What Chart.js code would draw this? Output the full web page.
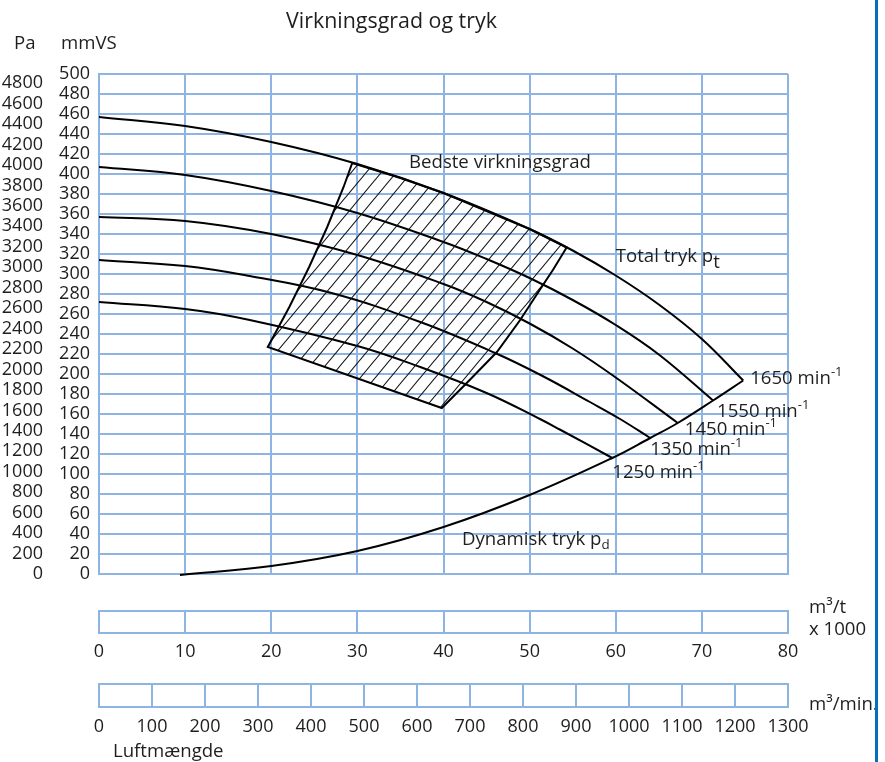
<!DOCTYPE html>
<html>
<head>
<meta charset="utf-8">
<script src="https://cdn.jsdelivr.net/npm/chart.js@4.4.0/dist/chart.umd.min.js"></script>
<style>
  html, body { margin: 0; padding: 0; background: #fff; }
  #wrap { width: 885px; height: 762px; }
</style>
</head>
<body>
<div id="wrap"><canvas id="fan" width="885" height="762"></canvas></div>
<script>
// ---- Fan data: air volume in 1000 m³/h, total pressure in mmVS ----
const speeds = [1650, 1550, 1450, 1350, 1250];

const flow1650 = [0, 10, 20, 30, 40, 50, 55, 60, 65, 70, 74.8];
const tp1650   = [457, 448, 432, 410, 381, 345, 323.5, 298.5, 269.5, 235, 193.5];

const flow1550 = [0, 10, 20, 30, 40, 45, 50, 55, 60, 65, 71.3];
const tp1550   = [407, 399, 383, 361, 332, 315, 296, 274, 249, 219.5, 173.5];

const flow1450 = [0, 10, 20, 30, 40, 45, 50, 55, 60, 67.2];
const tp1450   = [357, 353, 340, 319, 290, 272, 250.5, 225.5, 196.5, 151];

const flow1350 = [0, 10, 17.5, 27, 37.3, 46, 51.5, 57, 60.5, 64];
const tp1350   = [314, 308, 298, 281, 252, 221, 198, 172, 155, 136];

const flow1250 = [0, 10, 17.5, 30, 37.3, 45, 51.2, 53.5, 59.6];
const tp1250   = [272, 265, 254, 228, 207, 181, 155, 144.5, 116];

// dynamic pressure p_d
const dynFlow     = [9.4, 20, 30, 40, 50, 59.6, 64, 67.2, 71.3, 74.8];
const dynPressure = [-1, 8, 23, 47, 79, 116, 136, 151, 173.5, 193.5];

// best efficiency zone (closed outline)
const zoneFlow     = [29.4, 35, 40, 45, 50, 54.3, 52.7, 51.55, 48.9, 46.2, 42.7, 39.8, 19.6, 22.1, 24.4, 26.5, 28.4, 29.4];
const zonePressure = [411, 396, 381, 363, 345, 326.5, 304, 289, 254, 222, 191, 166, 227, 267, 307, 347, 387, 411];

// axes
const mmRange   = [0, 500];   const mmStep  = 20;
const PA_PER_MM = 9.78;       const paStep  = 200;
const flowRange = [0, 80];    const flowStep = 10;     // m³/t x 1000
const minRange  = [0, 1300];  const minStep  = 100;    // m³/min.

const curveFlows = [flow1650, flow1550, flow1450, flow1350, flow1250];
const curvePress = [tp1650, tp1550, tp1450, tp1350, tp1250];

// ---- styles ----
const GRID = '#8db4e2';
const INK = '#1e1e1e';
const FONT = '"Open Sans", "DejaVu Sans", sans-serif';
const TXT = 18.6;
Chart.defaults.font.family = FONT;
Chart.defaults.font.size = 18;
Chart.defaults.color = INK;
const plain = v => String(v);

const pts = (xs, ys) => xs.map((x, i) => ({ x, y: ys[i] }));

function hatchPattern(ctx) {
  const w = 15, h = 18;
  const c = document.createElement('canvas');
  c.width = w; c.height = h;
  const g = c.getContext('2d');
  g.strokeStyle = '#111';
  g.lineWidth = 1.1;
  g.beginPath();
  for (const dx of [-w, 0, w]) {
    g.moveTo(dx - w, 2 * h);
    g.lineTo(dx + 2 * w, -h);
  }
  g.stroke();
  return ctx.createPattern(c, 'repeat');
}

const canvas = document.getElementById('fan');
const ctx = canvas.getContext('2d');

const datasets = [];
datasets.push({
  label: 'Bedste virkningsgrad',
  data: pts(zoneFlow, zonePressure),
  showLine: true, tension: 0, fill: 'shape',
  backgroundColor: hatchPattern(ctx),
  borderColor: '#000', borderWidth: 2, pointRadius: 0
});
speeds.forEach((n, i) => {
  datasets.push({
    label: n + ' min-1',
    data: pts(curveFlows[i], curvePress[i]),
    showLine: true, tension: 0.4, fill: false,
    borderColor: '#000', borderWidth: 2, pointRadius: 0
  });
});
datasets.push({
  label: 'Dynamisk tryk',
  data: pts(dynFlow, dynPressure),
  showLine: true, tension: 0.4, fill: false,
  borderColor: '#000', borderWidth: 2, pointRadius: 0, clip: false
});

// text with sub/superscript parts
function rich(g, x, y, parts, size) {
  let cx = x;
  for (const p of parts) {
    const s = p.sup ? size * 0.7 : p.sub ? size * p.sub : size;
    g.font = s + 'px ' + FONT;
    const dy = p.sup ? -size * 0.36 : p.sub ? size * (p.drop || 0.3) : 0;
    g.fillText(p.t, cx, y + dy);
    cx += g.measureText(p.t).width;
  }
  g.font = size + 'px ' + FONT;
}

// label offsets from each speed curve's end point (px)
const speedLabelOffset = [[7, -2], [4, 11], [7, 7], [0, 12], [0, 15]];

const decor = {
  id: 'decor',
  afterDraw(chart) {
    const g = chart.ctx;
    const sx = chart.scales.x, sy = chart.scales.y;
    g.save();
    g.fillStyle = INK;
    g.textBaseline = 'middle';
    g.textAlign = 'left';

    // title and axis units
    g.font = '21.4px ' + FONT;
    g.textAlign = 'center';
    g.fillText('Virkningsgrad og tryk', 391.5, 22);
    g.textAlign = 'left';
    g.font = TXT + 'px ' + FONT;
    g.fillText('Pa', 14, 44);
    g.fillText('mmVS', 61, 44);

    // curve annotations
    g.fillText('Bedste virkningsgrad', sx.getPixelForValue(36.0), sy.getPixelForValue(411));
    rich(g, sx.getPixelForValue(60.0), sy.getPixelForValue(317),
      [{ t: 'Total tryk p' }, { t: 't', sub: 1, drop: 0.3 }], TXT);
    rich(g, sx.getPixelForValue(42.15), sy.getPixelForValue(34),
      [{ t: 'Dynamisk tryk p' }, { t: 'd', sub: 0.72, drop: 0.28 }], TXT);

    speeds.forEach((n, i) => {
      const fx = curveFlows[i][curveFlows[i].length - 1];
      const fy = curvePress[i][curvePress[i].length - 1];
      const [ox, oy] = speedLabelOffset[i];
      rich(g, sx.getPixelForValue(fx) + ox, sy.getPixelForValue(fy) + oy,
        [{ t: n + ' min' }, { t: '-1', sup: true }], TXT);
    });

    // flow strips: close the lower edge of each tick box
    g.strokeStyle = GRID;
    g.lineWidth = 2;
    for (const id of ['x2', 'x3']) {
      const s = chart.scales[id];
      const yb = s.top + s.options.grid.tickLength;
      g.beginPath();
      g.moveTo(s.left - 1, yb);
      g.lineTo(s.right + 1, yb);
      g.stroke();
    }
    const s2 = chart.scales.x2, s3 = chart.scales.x3;
    g.font = TXT + 'px ' + FONT;
    g.fillText('m³/t', s2.right + 21, s2.top - 3);
    g.fillText('x 1000', s2.right + 21, s2.top + 19);
    g.fillText('m³/min.', s3.right + 21, s3.top + 21);
    g.fillText('Luftmængde', s3.left + 14, 752);

    // right frame line
    g.fillStyle = '#0070c0';
    g.fillRect(875, 0, 3, chart.height);
    g.restore();
  }
};

new Chart(ctx, {
  type: 'scatter',
  data: { datasets },
  plugins: [decor],
  options: {
    responsive: false,
    animation: false,
    layout: { padding: { top: 74, right: 97, bottom: 0, left: 0 } },
    plugins: { legend: { display: false }, tooltip: { enabled: false } },
    scales: {
      x: {
        type: 'linear', position: 'bottom', weight: 0,
        min: flowRange[0], max: flowRange[1],
        ticks: { display: false, stepSize: flowStep },
        grid: { color: GRID, lineWidth: 2, drawTicks: false },
        border: { color: GRID, width: 2 },
        afterFit(s) { s.height = 37; }
      },
      x2: {
        type: 'linear', position: 'bottom', weight: 1,
        min: flowRange[0], max: flowRange[1],
        ticks: { stepSize: flowStep, autoSkip: false, maxRotation: 0, padding: 8, callback: plain },
        grid: { drawOnChartArea: false, drawTicks: true, tickLength: 22, tickColor: GRID, tickWidth: 2, color: GRID, lineWidth: 2 },
        border: { display: true, color: GRID, width: 2 },
        afterFit(s) { s.height = 73; }
      },
      x3: {
        type: 'linear', position: 'bottom', weight: 2,
        min: minRange[0], max: minRange[1],
        ticks: { stepSize: minStep, autoSkip: false, maxRotation: 0, padding: 9, callback: plain },
        grid: { drawOnChartArea: false, drawTicks: true, tickLength: 23, tickColor: GRID, tickWidth: 2, color: GRID, lineWidth: 2 },
        border: { display: true, color: GRID, width: 2 },
        afterFit(s) { s.height = 78; }
      },
      y: {
        type: 'linear', position: 'left', weight: 0,
        min: mmRange[0], max: mmRange[1],
        ticks: { stepSize: mmStep, autoSkip: false, padding: 9, callback: plain },
        grid: { color: GRID, lineWidth: 2, drawTicks: false },
        border: { color: GRID, width: 2 },
        afterFit(s) { s.width = 52; }
      },
      yPa: {
        type: 'linear', position: 'left', weight: 1,
        min: mmRange[0] * PA_PER_MM, max: mmRange[1] * PA_PER_MM,
        ticks: { stepSize: paStep, includeBounds: false, autoSkip: false, padding: 4, callback: plain },
        grid: { display: false, drawTicks: false },
        border: { display: false },
        afterFit(s) { s.width = 47; }
      }
    }
  }
});
</script>
</body>
</html>
